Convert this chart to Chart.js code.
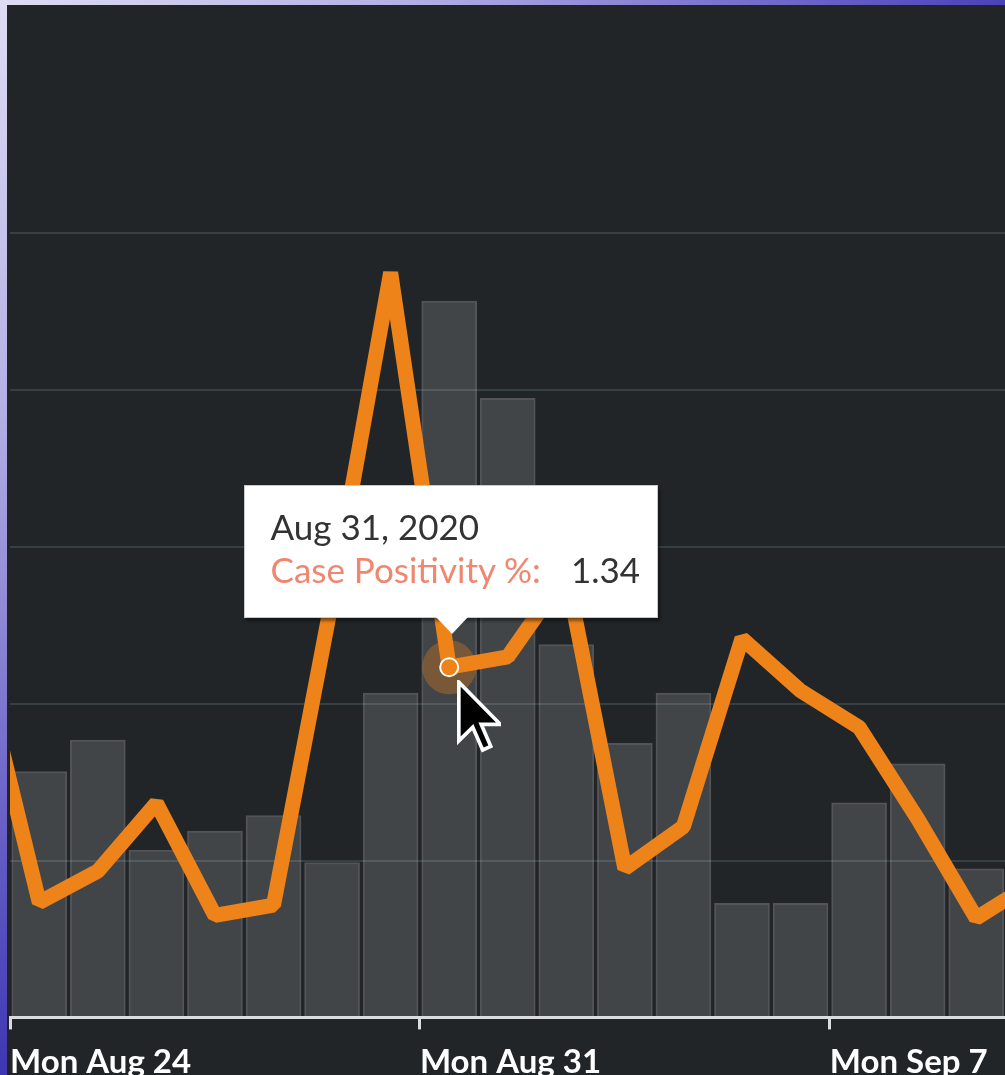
<!DOCTYPE html>
<html>
<head>
<meta charset="utf-8">
<script src="https://cdn.jsdelivr.net/npm/chart.js@4.4.0/dist/chart.umd.min.js"></script>
<style>
html, body { margin: 0; padding: 0; }
body {
    width: 1005px; height: 1075px; overflow: hidden; position: relative;
    background: radial-gradient(circle at 0 0, #dedcf4 0, #b2aee4 420px, #6c64c8 800px, #3a32b0 1100px);
}
#wrap { position: absolute; left: 7px; top: 5px; width: 998px; height: 1070px; background: #222528; overflow: hidden; }
#inner { position: absolute; left: -10px; top: -8px; width: 1016px; height: 1098px; }
#tip {
    position: absolute; display: none; box-sizing: border-box;
    width: 414px; height: 133px; padding: 19px 0 0 26px;
    background: #fff; border: 1px solid #c9c9c9;
    box-shadow: 2px 3px 3px rgba(0, 0, 0, 0.45);
    font-family: Lato, "Open Sans", sans-serif; color: #333; white-space: nowrap;
}
#tip .t { font-size: 35px; line-height: 43px; }
#tip .b { font-size: 35px; line-height: 43px; }
#tip .lab { color: #f0866f; }
#tip .val { margin-left: 30px; }
#tip::after {
    content: ""; position: absolute; left: 191px; bottom: -17px;
    border-left: 16px solid transparent; border-right: 16px solid transparent; border-top: 17px solid #fff;
}
#cursor { position: absolute; display: none; }
</style>
</head>
<body>
<div id="wrap">
  <div id="inner">
    <canvas id="chart"></canvas>
    <div id="tip"><div class="t"></div><div class="b"><span class="lab"></span><span class="val"></span></div></div>
    <svg id="cursor" width="44" height="74" viewBox="0 0 12 20"><path d="M0.5 0.5 L0.5 16.5 L4.3 12.8 L7 19 L9.2 18 L6.6 12 L11.8 12 Z" fill="#000" stroke="#fff" stroke-width="1"/></svg>
  </div>
</div>
<script>
// line series: one point per day, Aug 23 .. Sep 10 (first and last run off the plot)
const lineDays = ['Aug 23', 'Aug 24', 'Aug 25', 'Aug 26', 'Aug 27', 'Aug 28', 'Aug 29', 'Aug 30', 'Aug 31',
    'Sep 1', 'Sep 2', 'Sep 3', 'Sep 4', 'Sep 5', 'Sep 6', 'Sep 7', 'Sep 8', 'Sep 9', 'Sep 10'];
const positivity = [1.36, 0.44, 0.56, 0.82, 0.39, 0.43, 1.60, 2.85, 1.34,
    1.38, 1.70, 0.57, 0.73, 1.45, 1.25, 1.11, 0.76, 0.38, 0.52];

// bars: Aug 24 .. Sep 9
const barDays = ['Aug 24', 'Aug 25', 'Aug 26', 'Aug 27', 'Aug 28', 'Aug 29', 'Aug 30', 'Aug 31',
    'Sep 1', 'Sep 2', 'Sep 3', 'Sep 4', 'Sep 5', 'Sep 6', 'Sep 7', 'Sep 8', 'Sep 9'];
const cases = [15.7, 17.7, 10.7, 11.9, 12.9, 9.9, 20.7, 45.7,
    39.5, 23.8, 17.5, 20.7, 7.3, 7.3, 13.7, 16.2, 9.5];

const tickDays = [0, 7, 14];
const tickLabels = ['Mon Aug 24', 'Mon Aug 31', 'Mon Sep 7'];
const gridValues = [0, 10, 20, 30, 40, 50];
const year = 2020;
const hoverIndex = lineDays.indexOf('Aug 31');

const orange = '#ee8419';

const halo = {
    id: 'halo',
    beforeDatasetDraw(chart, args) {
        if (args.index !== 0) return;
        const c = chart.ctx;
        chart.getActiveElements().forEach(a => {
            c.save();
            c.beginPath();
            c.arc(a.element.x, a.element.y, 27, 0, Math.PI * 2);
            c.fillStyle = 'rgba(238, 132, 25, 0.32)';
            c.fill();
            c.restore();
        });
    }
};

function externalTip({ chart, tooltip }) {
    const el = document.getElementById('tip');
    const cur = document.getElementById('cursor');
    if (tooltip.opacity === 0 || !tooltip.dataPoints || !tooltip.dataPoints.length) {
        el.style.display = 'none';
        cur.style.display = 'none';
        return;
    }
    const dp = tooltip.dataPoints[0];
    el.querySelector('.t').textContent = lineDays[dp.dataIndex] + ', ' + year;
    el.querySelector('.lab').textContent = dp.dataset.label + ':';
    el.querySelector('.val').textContent = positivity[dp.dataIndex].toFixed(2);
    el.style.display = 'block';
    el.style.left = (tooltip.caretX - 209) + 'px';
    el.style.top = (tooltip.caretY - 180) + 'px';
    cur.style.display = 'block';
    cur.style.left = (tooltip.caretX + 4) + 'px';
    cur.style.top = (tooltip.caretY + 15) + 'px';
}

const ctx = document.getElementById('chart').getContext('2d');
const chart = new Chart(ctx, {
    data: {
        datasets: [{
            type: 'line',
            label: 'Case Positivity %',
            yAxisID: 'y1',
            order: 0,
            data: lineDays.map((d, i) => ({ x: i - 0.5, y: positivity[i] })),
            borderColor: orange,
            borderWidth: 15,
            borderJoinStyle: 'bevel',
            tension: 0,
            pointRadius: 0,
            pointHoverRadius: 9,
            pointHoverBackgroundColor: orange,
            pointHoverBorderColor: '#ffffff',
            pointHoverBorderWidth: 2
        }, {
            type: 'bar',
            label: 'Cases',
            yAxisID: 'y',
            order: 1,
            data: barDays.map((d, i) => ({ x: i + 0.5, y: cases[i] })),
            backgroundColor: 'rgba(255, 255, 255, 0.15)',
            borderColor: 'rgba(255, 255, 255, 0.22)',
            borderWidth: 2,
            borderSkipped: 'bottom',
            barPercentage: 0.95,
            categoryPercentage: 1
        }]
    },
    options: {
        responsive: true,
        maintainAspectRatio: false,
        animation: false,
        layout: { padding: { left: 2, right: 0, top: 0, bottom: 0 } },
        plugins: {
            legend: { display: false },
            tooltip: { enabled: false, external: externalTip, mode: 'nearest', intersect: false }
        },
        scales: {
            x: {
                type: 'linear',
                min: 0,
                max: 17,
                offset: false,
                afterBuildTicks: s => { s.ticks = tickDays.map(v => ({ value: v })); },
                grid: { offset: false, drawOnChartArea: false, drawTicks: true, tickLength: 12, color: '#d9dde0', lineWidth: 3 },
                border: { display: true, color: '#d9dde0', width: 3 },
                ticks: {
                    align: 'start',
                    autoSkip: false,
                    maxRotation: 0,
                    padding: 13,
                    color: '#ffffff',
                    font: { family: 'Lato', weight: 'bold', size: 33 },
                    callback: v => tickLabels[tickDays.indexOf(v)]
                }
            },
            y: {
                position: 'left',
                min: 0,
                max: 64.6,
                afterBuildTicks: s => { s.ticks = gridValues.map(v => ({ value: v })); },
                ticks: { display: false },
                grid: { color: '#353f44', lineWidth: 2, drawTicks: false, tickLength: 0 },
                border: { display: false }
            },
            y1: {
                display: false,
                min: 0,
                max: 3.876
            }
        }
    },
    plugins: [halo]
});

const act = [{ datasetIndex: 0, index: hoverIndex }];
chart.setActiveElements(act);
const pt = chart.getDatasetMeta(0).data[hoverIndex];
chart.tooltip.setActiveElements(act, { x: pt.x, y: pt.y });
chart.update('none');
</script>
</body>
</html>
